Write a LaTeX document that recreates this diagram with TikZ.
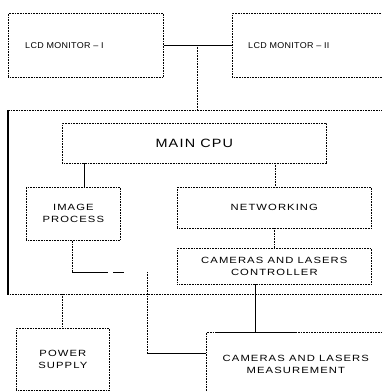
\documentclass[tikz,border=0pt]{standalone}
\usepackage{fontspec}
\setmainfont{Liberation Sans}
\newfontfamily\lblfont[FakeStretch=1.25,LetterSpace=12]{Liberation Sans}
\newfontfamily\cpufont[FakeStretch=1.2,LetterSpace=10]{Liberation Sans}
\newfontfamily\lcdfont[FakeStretch=1.05,LetterSpace=4]{Liberation Sans}
\tikzset{
  dotline/.style={line width=0.7pt, dash pattern=on 1pt off 0.6pt, black},
  solidline/.style={line width=0.8pt, black},
  blk/.style={dotline, rectangle, anchor=north west, inner sep=0pt,
              align=center, font=\lblfont\fontsize{9}{12}\selectfont},
  lcdtext/.style={anchor=west, inner sep=0pt, font=\lcdfont\fontsize{8.5}{10}\selectfont},
}
\begin{document}
\begin{tikzpicture}[x=1pt,y=-1pt]
  \useasboundingbox (0,0) rectangle (382,392);
  \clip (0,0) rectangle (382,392);

  % monitors
  \node[blk, draw, minimum width=155pt, minimum height=64pt] (lcd1) at (8,13) {};
  \node[blk, draw, minimum width=160pt, minimum height=64pt] (lcd2) at (232,13) {};
  \node[lcdtext] (lcd1t) at (25,46) {LCD MONITOR – I};
  \node[lcdtext] (lcd2t) at (248,46) {LCD MONITOR – II};

  % processing unit enclosure
  \node[blk, draw, minimum width=385pt, minimum height=184pt] (unit) at (8,110) {};
  \draw[line width=1.2pt, black] (unit.north west) -- (unit.south west);

  % blocks inside the unit
  \node[blk, draw, minimum width=264pt, minimum height=40pt,
        font=\cpufont\fontsize{12}{14}\selectfont] (cpu) at (62,123) {MAIN CPU};
  \node[blk, draw, minimum width=94pt, minimum height=53pt] (img) at (26,187) {IMAGE\\PROCESS};
  \node[blk, draw, minimum width=194pt, minimum height=41pt] (net) at (177,187) {NETWORKING};
  \node[blk, draw, minimum width=194pt, minimum height=36pt] (ctl) at (177,248) {CAMERAS AND LASERS\\CONTROLLER};

  % external blocks
  \node[blk, draw, minimum width=93pt, minimum height=62pt] (psu) at (16,328) {POWER\\SUPPLY};
  \node[blk, draw, minimum width=179pt, minimum height=64pt] (meas) at (206,332)
        {CAMERAS AND LASERS\\MEASUREMENT};
  \draw[solidline] (meas.north west) ++(10,0) -- ++(80,0);

  % connectors
  \coordinate (j1) at (197,45);
  \draw[solidline] (lcd1.east) -- (lcd2.west);
  \draw[dotline] (j1) -- (j1 |- unit.north);

  \draw[solidline] (84,163) coordinate (c1) -- (c1 |- img.north);
  \draw[dotline] (275,163) coordinate (c2) -- (c2 |- net.north);
  \draw[dotline] (274,228) coordinate (c3) -- (c3 |- ctl.north);

  \coordinate (k1) at (72,272);
  \coordinate (k2) at (147,272);
  \coordinate (k3) at (147,353);
  \draw[dotline] (k1 |- img.south) -- (k1);
  \draw[solidline, dash pattern=on 36pt off 5pt on 11pt off 30pt] (k1) -- (k2);
  \draw[dotline] (k2) -- (k3);
  \draw[solidline] (k3) -- (k3 -| meas.west);

  \draw[solidline] (255,284) coordinate (c4) -- (c4 |- meas.north);
  \draw[dotline] (62,294) coordinate (c5) -- (c5 |- psu.north);
\end{tikzpicture}
\end{document}
